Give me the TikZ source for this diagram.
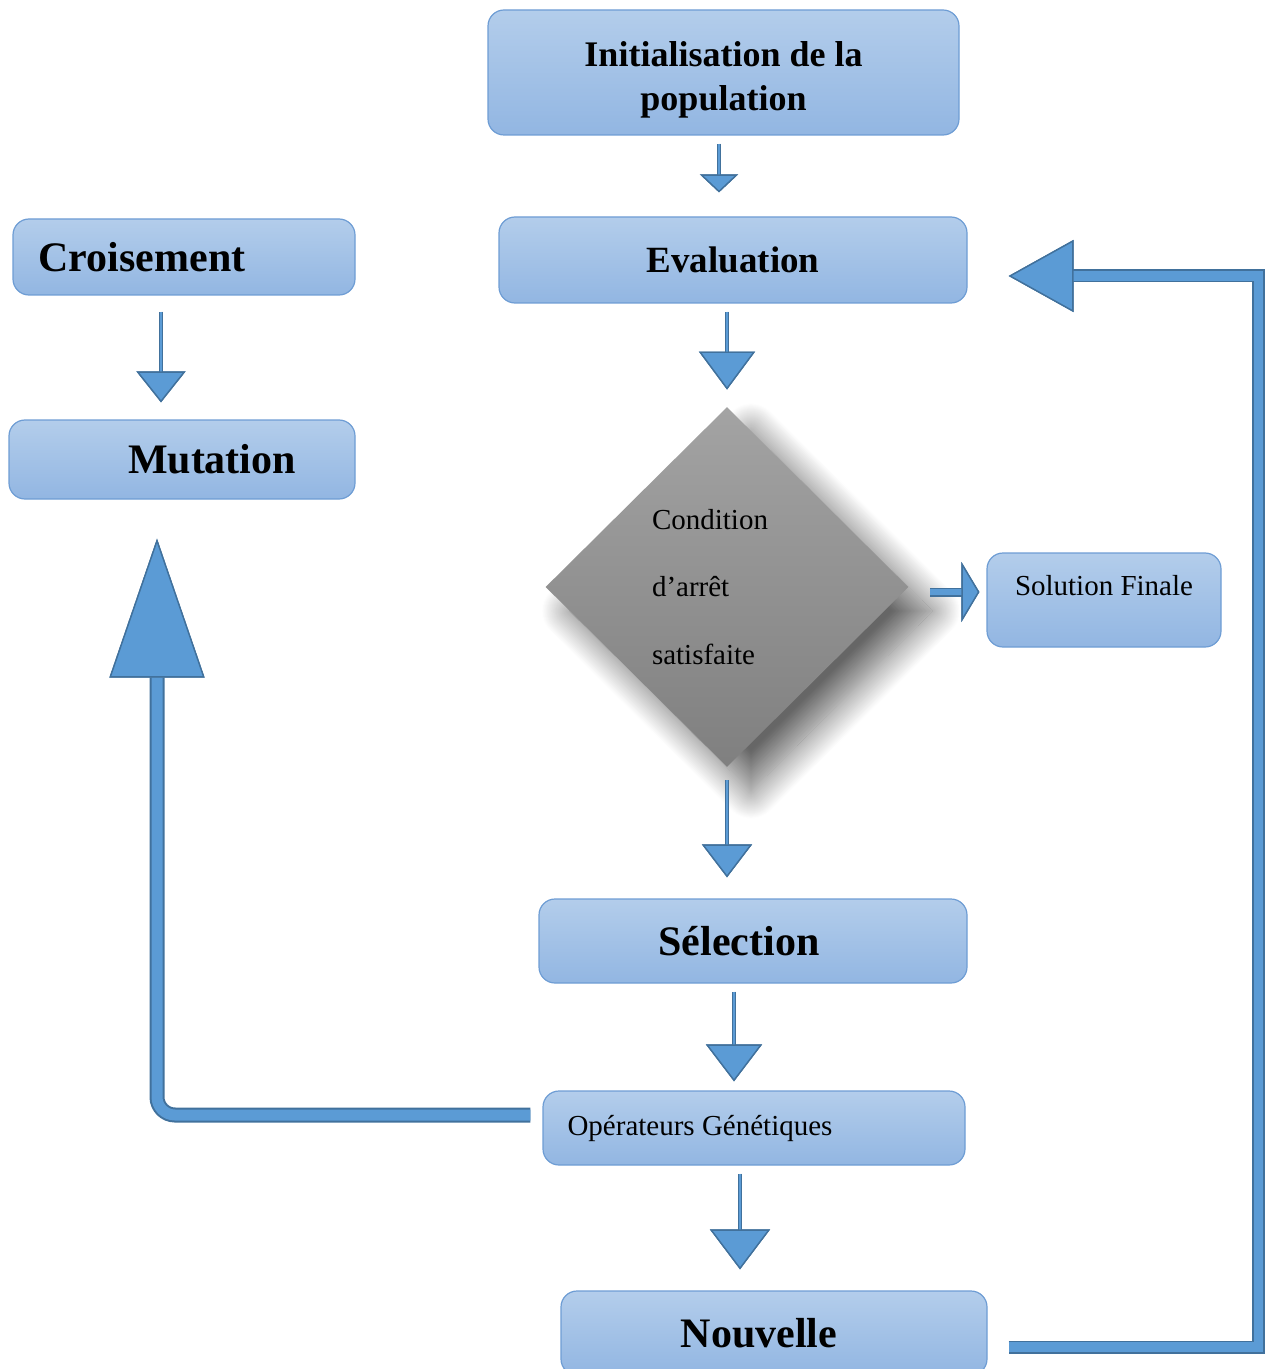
\documentclass[tikz,border=0pt]{standalone}
\usepackage{fontspec}
\setmainfont{Liberation Serif}
\usetikzlibrary{arrows.meta, shapes.geometric, shadows.blur}

\definecolor{boxtop}{HTML}{B3CDEB}
\definecolor{boxbot}{HTML}{92B6E2}
\definecolor{boxline}{HTML}{6E9DD4}
\definecolor{arrowfill}{HTML}{5B9BD5}
\definecolor{arrowline}{HTML}{41719C}

\tikzset{
  box/.style={draw=boxline, line width=0.6pt, rounded corners=8pt, top color=boxtop, bottom color=boxbot, inner sep=0pt},
  bigtxt/.style={font=\bfseries\fontsize{21}{25}\selectfont},
  smalltxt/.style={font=\fontsize{14.5}{17}\selectfont},
  flow/.style n args={4}{draw=arrowfill, line width=#2, preaction={draw=arrowline, line width=#1},
    -{Triangle[width=#3, length=#4, fill=arrowfill, color=arrowline, line width=0.7pt]}}
}

\begin{document}
\begin{tikzpicture}[x=0.5pt, y=-0.5pt, line join=miter]
		\useasboundingbox (0,0) rectangle (1271,1369);
		% Main column
		\node[box, align=center, font=\bfseries\fontsize{18}{22}\selectfont, minimum width=235.5pt, minimum height=62.5pt] (init) at (723.5,72.5) {\rule{0pt}{20pt}Initialisation de la\\population};
		\node[box, font=\bfseries\fontsize{18.5}{22}\selectfont, minimum width=234pt, minimum height=43pt] (eval) at (733,260) {Evaluation};
		\node[diamond, aspect=1, minimum width=181.5pt, minimum height=180pt, inner sep=0pt, top color=black!36, bottom color=black!50, text width=75pt, align=left, font=\fontsize{14.5}{33.75}\selectfont, blur shadow={shadow xshift=12pt, shadow yshift=-12pt, shadow blur radius=14pt, shadow blur steps=30, shadow opacity=60}] (dia) at (727,587) {Condition\\d’arrêt\\satisfaite};
		\node[box, bigtxt, minimum width=214pt, minimum height=42pt] (sel) at (753,941) {Sélection\hspace*{14pt}};
		\node[box, smalltxt, minimum width=211pt, minimum height=37pt] (op) at (754,1128) {Opérateurs Génétiques\hspace*{54pt}};
		\node[box, bigtxt, minimum width=213pt, minimum height=42pt] (nouv) at (774,1333) {Nouvelle\hspace*{15pt}};
		% Side boxes
		\node[box, bigtxt, minimum width=171pt, minimum height=38pt] (crois) at (184,257) {Croisement\hspace*{42pt}};
		\node[box, bigtxt, minimum width=173pt, minimum height=39.5pt] (mut) at (182,459.5) {\hspace*{30pt}Mutation};
		\node[box, smalltxt, text height=10pt, text depth=15pt, minimum width=117pt, minimum height=47pt] (sol) at (1104,600) {Solution Finale};
		% Arrow ends
		\coordinate (initS) at ([xshift=-2.25pt]init.south);
		\coordinate (selS) at ([xshift=-9.5pt]sel.south);
		\coordinate (opS) at ([xshift=-7pt]op.south);
		\coordinate (croisS) at ([xshift=-11.5pt]crois.south);
		\coordinate (diaR) at ([yshift=-2.5pt]dia.east);
		\coordinate (opW) at ([xshift=-6pt, yshift=6.5pt]op.west);
		\coordinate (mutS) at ([xshift=-12.5pt]mut.south);
		\coordinate (nouvE) at ([xshift=10.5pt, yshift=-7pt]nouv.east);
		\coordinate (evalE) at ([yshift=-8pt]eval.east);
		% Straight arrows
		\draw[flow={1.8pt}{0.7pt}{19pt}{9pt}, shorten <=4pt, shorten >=12pt] (initS) -- (initS |- eval.north);
		\draw[flow={2.4pt}{1.2pt}{28pt}{19pt}, shorten <=4pt, shorten >=8.5pt] (dia.north |- eval.south) -- (dia.north);
		\draw[flow={2.4pt}{1.2pt}{25pt}{16.5pt}, shorten <=6.5pt, shorten >=10.5pt] (dia.south) -- (dia.south |- sel.north);
		\draw[flow={2.4pt}{1.2pt}{28pt}{18.5pt}, shorten <=4pt, shorten >=4.5pt] (selS) -- (selS |- op.north);
		\draw[flow={2.4pt}{1.2pt}{30pt}{20pt}, shorten <=4pt, shorten >=10.5pt] (opS) -- (opS |- nouv.north);
		\draw[flow={2.4pt}{1.2pt}{24.5pt}{15.5pt}, shorten <=8pt, shorten >=8.5pt] (croisS) -- (croisS |- mut.north);
		\draw[flow={4.5pt}{3pt}{30pt}{9pt}, shorten <=10.5pt, shorten >=3.5pt] (diaR) -- (diaR -| sol.west);
		% Loops back
		\draw[flow={7.5pt}{5.5pt}{47.5pt}{69.5pt}, rounded corners=9pt, shorten >=19.5pt] (opW) -| (mutS);
		\draw[flow={6.5pt}{4.7pt}{36pt}{32.5pt}, shorten >=20.5pt] (nouvE) -| ([xshift=145.5pt]evalE) -- (evalE);
	\end{tikzpicture}
\end{document}
